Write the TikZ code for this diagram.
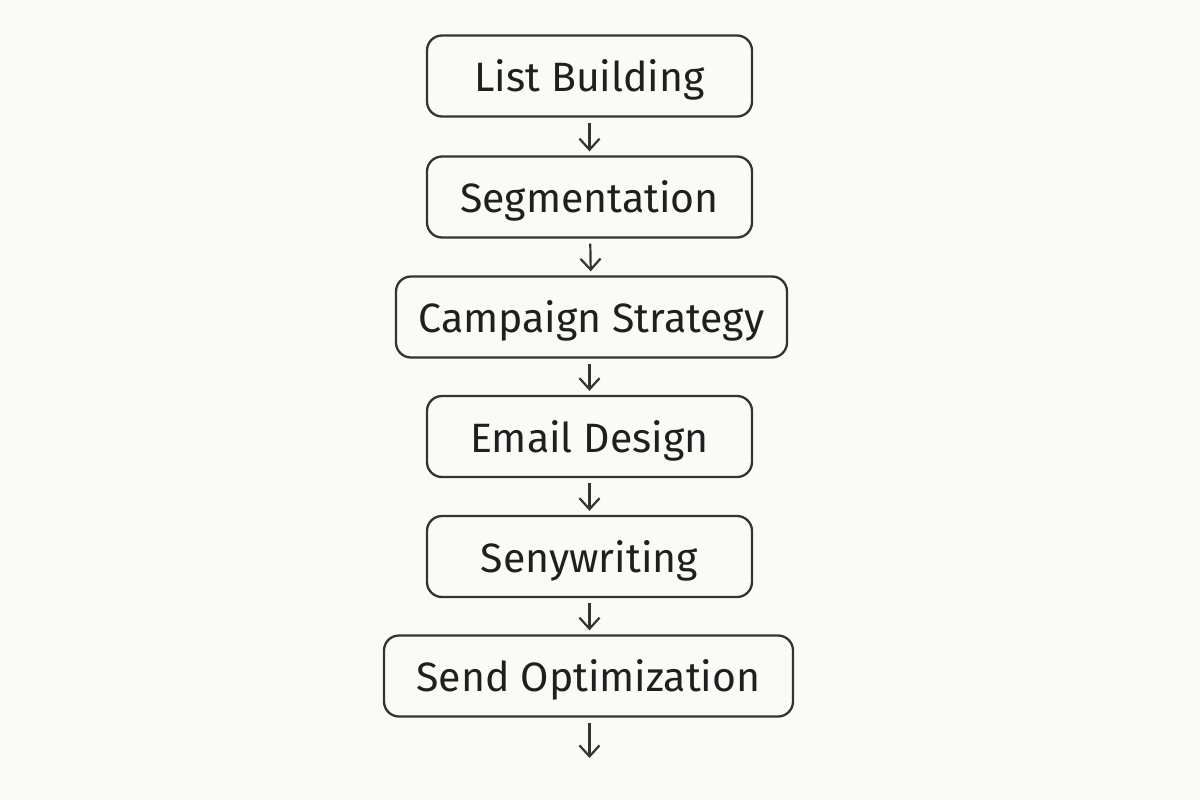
\documentclass[tikz,border=0pt]{standalone}
\usepackage{fontspec}
\setmainfont{Fira Sans}
\usetikzlibrary{arrows.meta}
\definecolor{bg}{HTML}{FAFAF7}
\definecolor{ink}{HTML}{333333}
\tikzset{
  stage/.style={draw=ink, line width=2.3pt, rounded corners=15pt, minimum height=81pt, text=black!88, font=\fontsize{41}{48}\selectfont, inner sep=0pt, text depth=0pt, yshift=0pt},
  flow/.style={draw=ink, line width=2.2pt, -{Straight Barb[length=11pt,width=20pt,line width=2.2pt]}, shorten <=5pt, shorten >=4pt}
}
\begin{document}
\begin{tikzpicture}[x=1pt,y=-1pt]
\fill[bg] (0,0) rectangle (1200,800);
\useasboundingbox (0,0) rectangle (1200,800);
\node[stage, minimum width=325pt] (n1) at (589.5,76) {List Building};
\node[stage, minimum width=325pt] (n2) at (589.5,197) {Segmentation};
\node[stage, minimum width=391pt] (n3) at (591.5,317) {Campaign Strategy};
\node[stage, minimum width=325pt] (n4) at (589.5,436.5) {Email Design};
\node[stage, minimum width=325pt] (n5) at (589.5,556.5) {Senywriting};
\node[stage, minimum width=409pt] (n6) at (588.5,676) {Send Optimization};
\coordinate (end) at (589.5,762);
\draw[flow] (n1) -- (n2);
\draw[flow] (n2) -- (n3);
\draw[flow] (n3.south -| n1.south) -- (n4.north);
\draw[flow] (n4) -- (n5);
\draw[flow] (n5) -- (n6.north -| n5.south);
\draw[flow] (n6.south -| n5.south) -- (end);
\end{tikzpicture}
\end{document}
